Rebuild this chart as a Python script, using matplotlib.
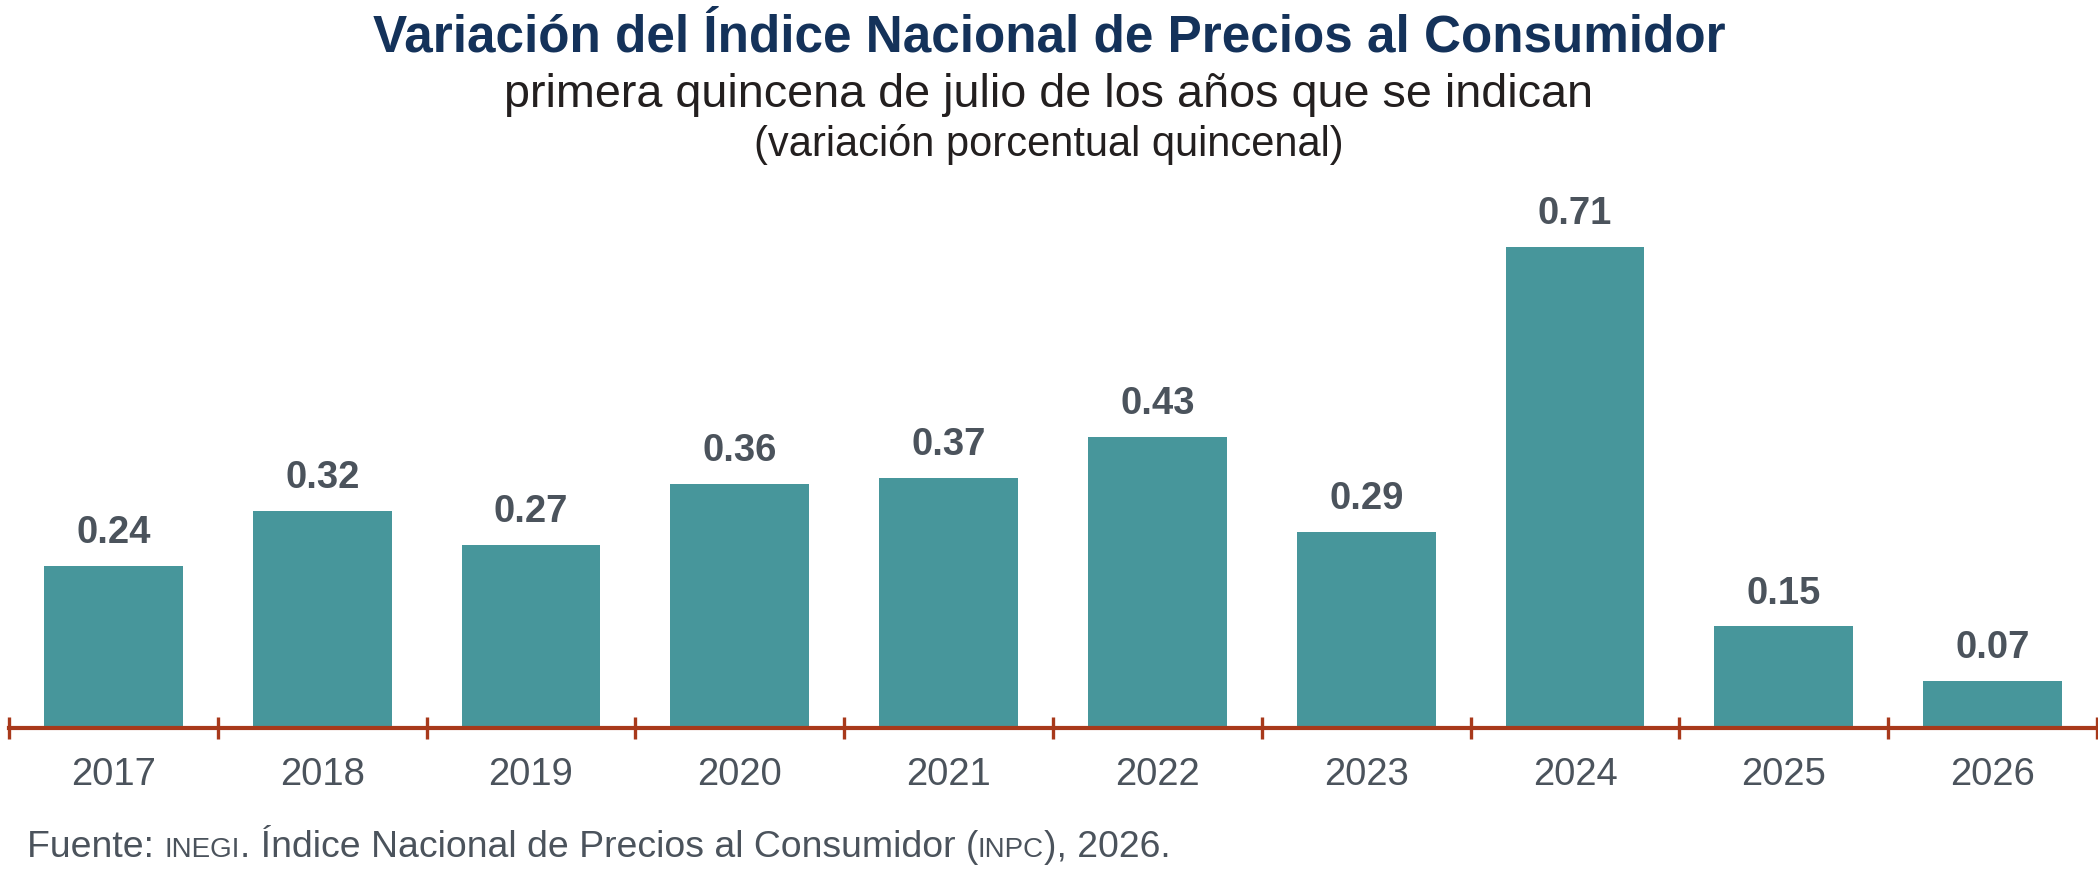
import numpy as np
import matplotlib
matplotlib.use("Agg")
import matplotlib.pyplot as plt

# Datos: variación porcentual quincenal del INPC, primera quincena de julio
anios = ["2017", "2018", "2019", "2020", "2021", "2022", "2023", "2024", "2025", "2026"]
variacion = [0.24, 0.32, 0.27, 0.36, 0.37, 0.43, 0.29, 0.71, 0.15, 0.07]
etiquetas = [f"{v:.2f}" for v in variacion]

titulo = "Variación del Índice Nacional de Precios al Consumidor"
subtitulo = "primera quincena de julio de los años que se indican"
unidad = "(variación porcentual quincenal)"
fuente = [("Fuente: ", False), ("INEGI", True), (". Índice Nacional de Precios al Consumidor (", False),
          ("INPC", True), ("), 2026.", False)]

color_barra = "#47969B"
color_eje = "#A8391B"
color_gris = "#4B535C"
color_titulo = "#14325A"
color_sub = "#231F1F"

plt.rcParams['font.family'] = ['Liberation Sans', 'DejaVu Sans']

W, H = 2098, 886
fig = plt.figure(figsize=(W / 100, H / 100), dpi=100)

# ejes: linea base en y=728 px, ancho casi completo
y0 = (H - 728) / H
alto = (728 - 150) / H
ax = fig.add_axes([9 / W, y0, (2097 - 9) / W, alto])

x = np.arange(len(anios))
ax.bar(x, variacion, width=0.665, color=color_barra, zorder=2)

for xi, v, t in zip(x, variacion, etiquetas):
    ax.annotate(t, (xi, v), xytext=(0, 16.5), textcoords="offset points",
                ha="center", va="baseline", fontsize=27.5, fontweight="bold", color=color_gris)

ax.set_xlim(-0.5, len(anios) - 0.5)
ax.set_ylim(0, (728 - 150) / 677)

ax.set_xticks(x)
ax.set_xticklabels(anios)
ax.set_xticks(np.arange(-0.5, len(anios)), minor=True)
ax.tick_params(axis="x", which="major", length=0, pad=21, labelsize=27.5, labelcolor=color_gris)
ax.tick_params(axis="x", which="minor", direction="inout", length=16, width=2.4, color=color_eje)
ax.set_yticks([])

for lado in ["top", "left", "right"]:
    ax.spines[lado].set_visible(False)
ax.spines["bottom"].set_color(color_eje)
ax.spines["bottom"].set_linewidth(3)
ax.spines["bottom"].set_zorder(3)

fig.text(0.5, 1 - 52 / H, titulo, ha="center", va="baseline", fontsize=36.9,
         fontweight="bold", color=color_titulo)
fig.text(0.5, 1 - 107 / H, subtitulo, ha="center", va="baseline", fontsize=33.7, color=color_sub)
fig.text(0.5, 1 - 156 / H, unidad, ha="center", va="baseline", fontsize=30, color=color_sub)

# fuente con versalitas para las siglas
renderer = fig.canvas.get_renderer()
xpos = 27
for texto, siglas in fuente:
    t = fig.text(xpos / W, 1 - 857 / H, texto, ha="left", va="baseline",
                 fontsize=20 if siglas else 26.9, color=color_gris)
    xpos += t.get_window_extent(renderer).width

fig.savefig("out.png", dpi=100)
